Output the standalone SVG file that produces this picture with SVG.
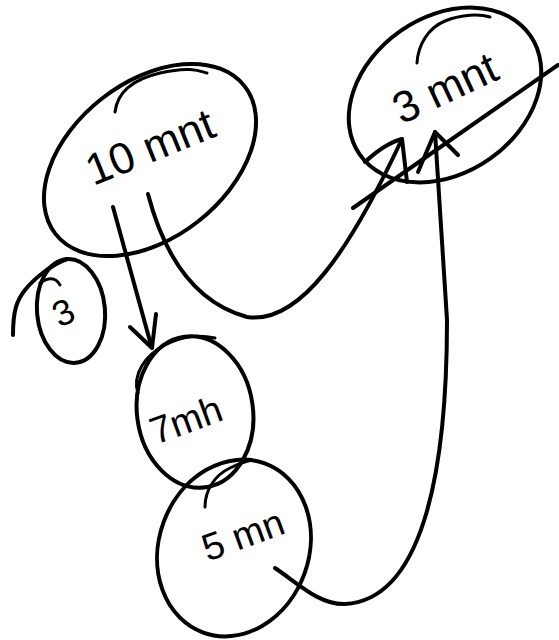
<svg xmlns="http://www.w3.org/2000/svg" width="559" height="640" viewBox="0 0 559 640">
<style>
.s{fill:none;stroke:#000;stroke-width:4;stroke-linecap:round;stroke-linejoin:round}
.t{fill:none;stroke:#000;stroke-width:3;stroke-linecap:round;stroke-linejoin:round}
.lbl{font-family:"Liberation Sans","DejaVu Sans",sans-serif;fill:#000;text-anchor:middle}
</style>
<rect width="559" height="640" fill="#fff"/>
<g id="node-10mnt">
<ellipse class="s" cx="150" cy="160" rx="120" ry="78" transform="rotate(-38 150 160)"/>
<path class="t" d="M115,112 C117,95 130,80 160,73 S200,71 207,73"/>
<text class="lbl" x="150" y="162" font-size="44" transform="rotate(-22 150 147)">10 mnt</text>
</g>
<g id="node-3mnt">
<ellipse class="s" cx="445" cy="95" rx="104" ry="78" transform="rotate(-35 445 95)"/>
<path class="t" d="M417,63 C418,45 428,28 445,21 S480,14 490,17"/>
<text class="lbl" x="445" y="103" font-size="44" transform="rotate(-25 445 88)">3 mnt</text>
</g>
<g id="node-3">
<ellipse class="s" cx="71" cy="311" rx="34" ry="52" transform="rotate(-5 71 311)"/>
<path class="s" d="M13,335 C13,310 17,300 25,290 S50,265 67,259"/>
<path class="t" d="M40,283 C47,278 55,276 60,285"/>
<text class="lbl" x="63" y="325" font-size="36" transform="rotate(-25 63 312)">3</text>
</g>
<g id="node-7mh">
<ellipse class="s" cx="195" cy="412" rx="58" ry="76" transform="rotate(-8 195 412)"/>
<path class="t" d="M138,393 C132,375 145,355 165,345 S200,335 215,338"/>
<text class="lbl" x="186" y="433" font-size="38" transform="rotate(-20 186 420)">7mh</text>
</g>
<g id="node-5mn">
<ellipse class="s" cx="234" cy="548" rx="75" ry="90" transform="rotate(20 234 548)"/>
<path class="t" d="M205,507 C205,490 215,475 230,468 S245,462 252,460"/>
<text class="lbl" x="243" y="548" font-size="38" transform="rotate(-20 243 535)">5 mn</text>
</g>
<g id="connectors">
<path class="s" d="M113,207 L151,345"/>
<path class="s" d="M130,327 L152,348 L156,314"/>
<path class="s" d="M148,194 C160,240 185,300 247,317 C300,325 350,250 402,139"/>
<path class="s" d="M365,162 C378,150 390,142 402,139 L407,182"/>
<path class="s" d="M275,568 C300,585 320,605 345,604 C420,600 447,480 447,320 L435,132"/>
<path class="s" d="M418,172 L435,132 L458,155"/>
<path class="s" d="M353,208 L558,65"/>
</g>
</svg>
